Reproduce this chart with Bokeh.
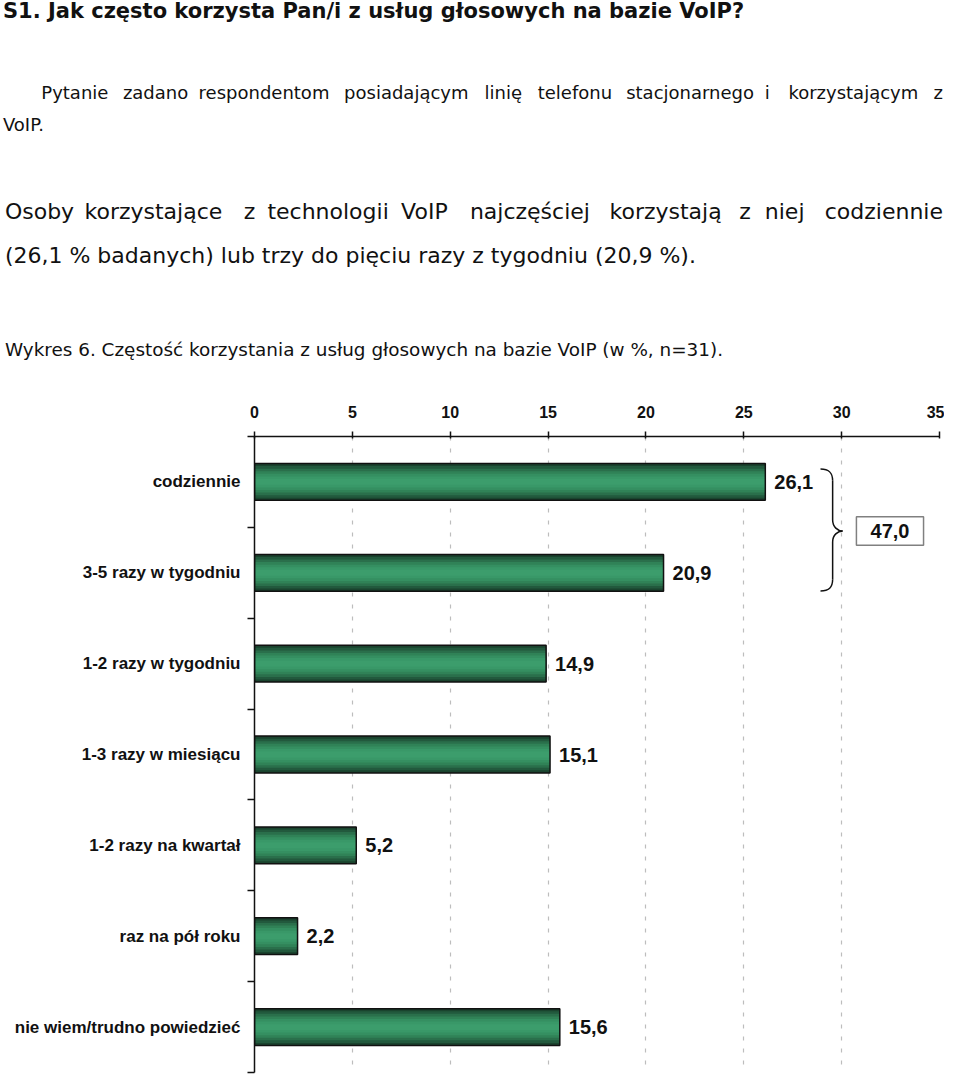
from bokeh.plotting import figure
from bokeh.models import Range1d, FixedTicker, ColumnDataSource, Div
from bokeh.layouts import column
from bokeh.embed import file_html
from bokeh.resources import INLINE
from bokeh.core.properties import value

# ---------------- data ----------------
categories = ["codziennie", "3-5 razy w tygodniu", "1-2 razy w tygodniu",
              "1-3 razy w miesiącu", "1-2 razy na kwartał", "raz na pół roku",
              "nie wiem/trudno powiedzieć"]
values = [26.1, 20.9, 14.9, 15.1, 5.2, 2.2, 15.6]
x_ticks = [0, 5, 10, 15, 20, 25, 30, 35]

title_text = "S1. Jak często korzysta Pan/i z usług głosowych na bazie VoIP?"
para1_words = ["Pytanie", "zadano", "respondentom", "posiadającym", "linię",
               "telefonu", "stacjonarnego", "i", "korzystającym", "z"]
para1_tail = "VoIP."
para2_words = ["Osoby", "korzystające", "z", "technologii", "VoIP", "najczęściej",
               "korzystają", "z", "niej", "codziennie"]
para2_tail = "(26,1 % badanych) lub trzy do pięciu razy z tygodniu (20,9 %)."
caption = "Wykres 6. Częstość korzystania z usług głosowych na bazie VoIP (w %, n=31)."

# ---------------- layout ----------------
W = 944
H_HDR = 386
H_FIG = 1074 - H_HDR
B_LEFT, B_RIGHT, B_TOP, B_BOTTOM = 254, 5, 50, 2
NCAT = len(categories)

para1_x = [42, 125, 202, 350, 493, 547, 637, 778, 802]
para2_x = [5, 86, 248, 272, 408, 478, 620, 752, 778]
SX, SY = 0.983, 0.9887


def span(ref_x, ref_base, text, size, bold=False, right=False):
    top = ref_base * SY - 0.846 * size
    pos = (f"right:{W - 943}px;" if right else f"left:{ref_x * SX:.1f}px;")
    weight = "bold" if bold else "normal"
    return (f'<span style="position:absolute;{pos}top:{top:.1f}px;'
            f'font-family:\'DejaVu Sans\';font-size:{size}px;line-height:1;'
            f'font-weight:{weight};white-space:nowrap;color:#111111">{text}</span>')


parts = [span(3, 19, title_text, 21, bold=True)]
parts += [span(x, 100, w, 18) for x, w in zip(para1_x, para1_words[:-1])]
parts.append(span(0, 100, para1_words[-1], 18, right=True))
parts.append(span(3, 133, para1_tail, 18))
parts += [span(x, 222, w, 22) for x, w in zip(para2_x, para2_words[:-1])]
parts.append(span(0, 222, para2_words[-1], 22, right=True))
parts.append(span(5, 267, para2_tail, 22))
parts.append(span(5, 361, caption, 18.4))

header = Div(text=(f'<div style="position:relative;width:{W}px;height:{H_HDR}px;'
                   f'margin:0;padding:0">' + "".join(parts) + "</div>"),
             width=W, height=H_HDR, margin=(0, 0, 0, 0))

# ---------------- chart ----------------
CFONT = value("Liberation Sans")
p = figure(width=W, height=H_FIG, x_range=Range1d(0, 35),
           y_range=Range1d(NCAT + 0.5, 0.5),
           x_axis_location="above", output_backend="svg", toolbar_location=None,
           min_border_left=B_LEFT, min_border_right=B_RIGHT, min_border_top=B_TOP,
           min_border_bottom=B_BOTTOM, margin=(0, 0, 0, 0))
p.outline_line_color = None
p.ygrid.visible = False

xa = p.xaxis[0]
xa.ticker = FixedTicker(ticks=x_ticks)
xa.major_tick_out = 5
xa.major_tick_in = 2
xa.minor_tick_out = 0
xa.minor_tick_in = 0
xa.axis_line_width = 1.5
xa.axis_line_color = "#111111"
xa.major_tick_line_width = 1.5
xa.major_tick_line_color = "#111111"
xa.major_label_text_font = "Liberation Sans"
xa.major_label_text_font_style = "bold"
xa.major_label_text_font_size = "16px"
xa.major_label_text_color = "#111111"
xa.major_label_standoff = 14

ypos = list(range(1, NCAT + 1))
ya = p.yaxis[0]
ya.ticker = FixedTicker(ticks=ypos, minor_ticks=[i + 0.5 for i in range(NCAT + 1)])
ya.major_label_overrides = {y: c for y, c in zip(ypos, categories)}
ya.major_tick_out = 0
ya.major_tick_in = 0
ya.minor_tick_out = 7
ya.minor_tick_in = 0
ya.minor_tick_line_width = 1.5
ya.minor_tick_line_color = "#111111"
ya.axis_line_width = 1.5
ya.axis_line_color = "#111111"
ya.major_label_text_font = "Liberation Sans"
ya.major_label_text_font_style = "bold"
ya.major_label_text_font_size = "17px"
ya.major_label_text_color = "#111111"
ya.major_label_standoff = 7

g = p.xgrid[0]
g.ticker = FixedTicker(ticks=x_ticks[1:])
g.grid_line_color = "#bdbdbd"
g.grid_line_dash = "4 8"
g.grid_line_width = 1.2

labels = [f"{v:.1f}".replace(".", ",") for v in values]
src = ColumnDataSource(dict(y=ypos, value=values, label=labels, cat=categories))

BAR_H = 0.405
layers = [(1.0, "#1a432e"), (0.86, "#22593d"), (0.72, "#2a6f4b"), (0.58, "#308257"),
          (0.44, "#358f61"), (0.30, "#399868"), (0.16, "#3c9d6c")]
for frac, col in layers:
    p.hbar(y="y", left=0, right="value", height=BAR_H * frac, fill_color=col,
           line_color=None, source=src)
p.hbar(y="y", left=0, right="value", height=BAR_H, fill_alpha=0,
       line_color="#111111", line_width=1.5, source=src)

p.text(x="value", y="y", text="label", x_offset=9, text_baseline="middle",
       text_align="left", text_font=CFONT, text_font_style="bold",
       text_font_size="20px", text_color="#111111", source=src)

# brace grouping the first two categories
xL, xS, xT = 28.92, 29.54, 30.05
yT, yM, yB = 0.857, 1.54, 2.20
p.bezier(x0=[xL, xS, xT, xS], y0=[yT, yM - 0.12, yM, yB - 0.13],
         x1=[xS, xT, xS, xL], y1=[yT + 0.13, yM, yM + 0.12, yB],
         cx0=[xL + 0.46, xS, xS + 0.26, xS], cy0=[yT, yM - 0.045, yM, yB - 0.045],
         cx1=[xS, xS + 0.26, xS, xL + 0.46], cy1=[yT + 0.045, yM, yM + 0.045, yB],
         line_color="#111111", line_width=1.5)
p.segment(x0=[xS, xS], y0=[yT + 0.13, yM + 0.12], x1=[xS, xS], y1=[yM - 0.12, yB - 0.13],
          line_color="#111111", line_width=1.5)

total = values[0] + values[1]
p.rect(x=[32.47], y=[yM], width=[3.43], height=[0.315], fill_color="white",
       line_color="#808080", line_width=1.5)
p.text(x=[32.47], y=[yM], text=[f"{total:.1f}".replace(".", ",")], text_align="center",
       text_baseline="middle", text_font=CFONT, text_font_style="bold",
       text_font_size="20px", text_color="#111111")

layout = column(header, p, spacing=0)
open("out.html", "w").write(file_html(layout, INLINE))
